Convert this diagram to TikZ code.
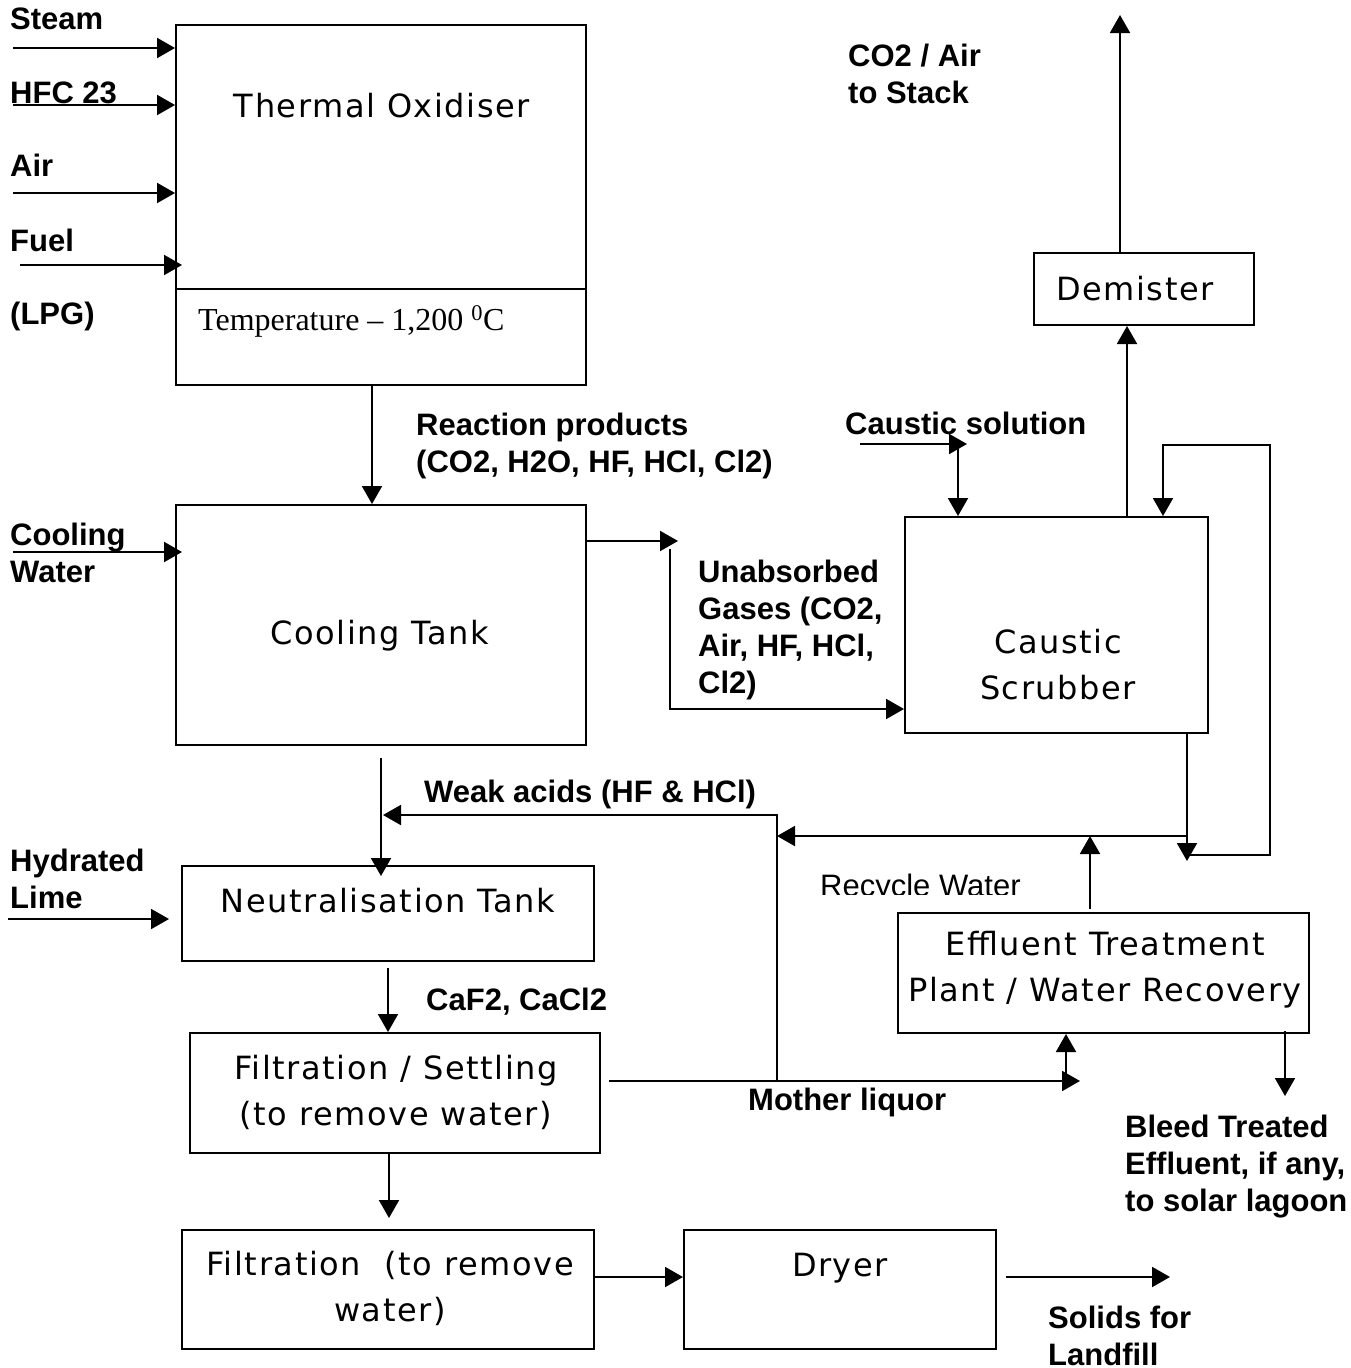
\documentclass[tikz,border=0pt]{standalone}
\usepackage{fontspec}
\setmainfont{Liberation Sans}
\newfontfamily\boxfont[LetterSpace=5]{DejaVu Sans}
\newfontfamily\tempfont{Liberation Serif}
\usetikzlibrary{arrows.meta}

\begin{document}
\begin{tikzpicture}[x=1pt, y=-1pt,
    box/.style={draw, line width=2pt, inner sep=0pt},
    boxtext/.style={font=\boxfont\fontsize{32}{46}\selectfont, align=center, inner sep=0pt, anchor=base},
    lbl/.style={font=\bfseries\fontsize{31}{37}\selectfont, align=left, inner sep=0pt, anchor=base west},
    flow/.style={line width=2pt, -{Triangle[length=18pt,width=20pt]}}]

    \useasboundingbox (0,0) rectangle (1351,1368);

    % Process units
    \node[box, minimum width=410pt, minimum height=360pt] (tox) at (381,205) {};
    \node[box, minimum width=410pt, minimum height=240pt] (cool) at (381,625) {};
    \node[box, minimum width=303pt, minimum height=216pt] (scrub) at (1056.5,625) {};
    \node[box, minimum width=220pt, minimum height=72pt] (demist) at (1144,289) {};
    \node[box, minimum width=412pt, minimum height=95pt] (neut) at (388,913.5) {};
    \node[box, minimum width=410pt, minimum height=120pt] (filtset) at (395,1093) {};
    \node[box, minimum width=411pt, minimum height=120pt] (etp) at (1103.5,973) {};
    \node[box, minimum width=412pt, minimum height=119pt] (filt) at (388,1289.5) {};
    \node[box, minimum width=312pt, minimum height=119pt] (dryer) at (840,1289.5) {};

    % Split line of the oxidiser
    \coordinate (toxsplit) at (381,289);
    \draw[line width=2pt] (toxsplit -| tox.west) -- (toxsplit -| tox.east);

    % Unit names (base = last line)
    \node[boxtext] (toxtxt) at (382,117) {Thermal Oxidiser};
    \node[boxtext, font=\tempfont\fontsize{32}{38}\selectfont, anchor=base west] (temptxt) at (198,330) {Temperature – 1,200 \textsuperscript{0}C};
    \node[boxtext] (cooltxt) at (380,644) {Cooling Tank};
    \node[boxtext] (scrubtxt) at (1058,699) {Caustic\\Scrubber};
    \node[boxtext] (demisttxt) at (1135,300) {Demister};
    \node[boxtext] (neuttxt) at (388,912) {Neutralisation Tank};
    \node[boxtext] (filtsettxt) at (396,1125) {Filtration / Settling\\(to remove water)};
    \node[boxtext] (etptxt) at (1105,1001) {Effluent Treatment\\Plant / Water Recovery};
    \node[boxtext] (filttxt) at (390,1321) {Filtration~~(to remove\\water)};
    \node[boxtext] (dryertxt) at (840,1276) {Dryer};

    % Stream labels (base = last line)
    \node[lbl] (steam) at (10,29) {Steam};
    \node[lbl] (hfc) at (10,103) {HFC 23};
    \node[lbl] (air) at (10,176) {Air};
    \node[lbl] (fuel) at (10,251) {Fuel};
    \node[lbl] (lpg) at (10,324) {(LPG)};
    \node[lbl] (rxnlbl) at (416,472) {Reaction products\\(CO2, H2O, HF, HCl, Cl2)};
    \node[lbl] (stacklbl) at (848,103) {CO2 / Air\\to Stack};
    \node[lbl] (cslbl) at (845,434) {Caustic solution};
    \node[lbl] (cwlbl) at (10,582) {Cooling\\Water};
    \node[lbl] (gaslbl) at (698,693) {Unabsorbed\\Gases (CO2,\\Air, HF, HCl,\\Cl2)};
    \node[lbl] (walbl) at (424,802) {Weak acids (HF \& HCl)};
    \node[lbl] (limelbl) at (10,908) {Hydrated\\Lime};
    \node[lbl] (caflbl) at (426,1010) {CaF2, CaCl2};
    \node[lbl] (mllbl) at (748,1110) {Mother liquor};
    \node[lbl] (bleedlbl) at (1125,1211) {Bleed Treated\\Effluent, if any,\\to solar lagoon};
    \node[lbl] (solidslbl) at (1048,1365) {Solids for\\Landfill};
    \begin{scope}
        \clip (800,860) rectangle (1040,894);
        \node[lbl, font=\fontsize{31}{37}\selectfont] (rwlbl) at (820,896) {Recycle Water};
    \end{scope}

    % Feeds to the oxidiser
    \coordinate (steamin) at (13,48);
    \coordinate (hfcin) at (13,105);
    \coordinate (airin) at (13,193);
    \coordinate (fuelin) at (20,265);
    \draw[flow] (steamin) -- (steamin -| tox.west);
    \draw[flow] (hfcin) -- (hfcin -| tox.west);
    \draw[flow] (airin) -- (airin -| tox.west);
    \draw[flow] (fuelin) -- ([xshift=7pt]fuelin -| tox.west);

    % Oxidiser to cooling tank
    \draw[flow] ([xshift=-9pt]tox.south) -- ([xshift=-9pt]cool.north);
    \coordinate (cwin) at (13,552);
    \draw[flow] (cwin) -- ([xshift=7pt]cwin -| cool.west);

    % Gases to the scrubber
    \coordinate (gasturn) at (670,549);
    \draw[flow] ([yshift=84pt]cool.east) -- ++(91,0);
    \draw[flow] (gasturn) |- ([yshift=-84pt]scrub.west);
    \coordinate (csin) at (860,444);
    \coordinate (csdrop) at (958,444);
    \draw[flow] (csin) -- ++(107,0);
    \draw[flow] (csdrop) -- (csdrop |- scrub.north);

    % Scrubber overheads
    \coordinate (stack) at (1120,15);
    \draw[flow] ([xshift=70.5pt]scrub.north) -- ([xshift=70.5pt]scrub.north |- demist.south);
    \draw[flow] (stack |- demist.north) -- (stack);

    % Scrubber liquor and recycle loop
    \coordinate (loopin) at (1190,855);
    \coordinate (looptop) at (1270,445);
    \draw[flow] ([xshift=130.5pt]scrub.south) -- ++(0,127);
    \draw[flow] (loopin) -| (looptop) -| ([xshift=106.5pt]scrub.north);

    % Weak acids back to neutralisation
    \coordinate (wajoin) at (1187,836);
    \coordinate (mlcol) at (777,1081);
    \coordinate (wabend) at (777,815);
    \draw[flow] (wajoin) -- (wajoin -| mlcol);
    \draw[flow] (mlcol) -- (wabend) -- ([xshift=2pt]wabend -| cool.south);
    \draw[flow] ([yshift=-12pt]cool.south) -- ([yshift=-11pt]cool.south |- neut.north);
    \coordinate (limein) at (8,919);
    \draw[flow] (limein) -- ([xshift=-12pt]limein -| neut.west);

    % Solids handling
    \draw[flow] ([yshift=-6pt]neut.south) -- (neut.south |- filtset.north);
    \draw[flow] ([xshift=-6pt]filtset.south) -- ++(0,64);
    \draw[flow] ([yshift=12.5pt]filt.east) -- ([yshift=12.5pt]dryer.west);
    \coordinate (solids) at (1170,1277);
    \draw[flow] ([xshift=9pt,yshift=12.5pt]dryer.east) -- (solids);

    % Mother liquor and effluent treatment
    \coordinate (etpfoot) at (1066,1081);
    \draw[flow] ([xshift=8pt,yshift=12pt]filtset.east) -- ([xshift=14pt]etpfoot);
    \draw[flow] (etpfoot) -- (etpfoot |- etp.south);
    \draw[flow] ([xshift=-13.5pt,yshift=3pt]etp.north) -- ++(0,-73);
    \draw[flow] ([xshift=181.5pt,yshift=3pt]etp.south) -- ++(0,65);

\end{tikzpicture}
\end{document}
